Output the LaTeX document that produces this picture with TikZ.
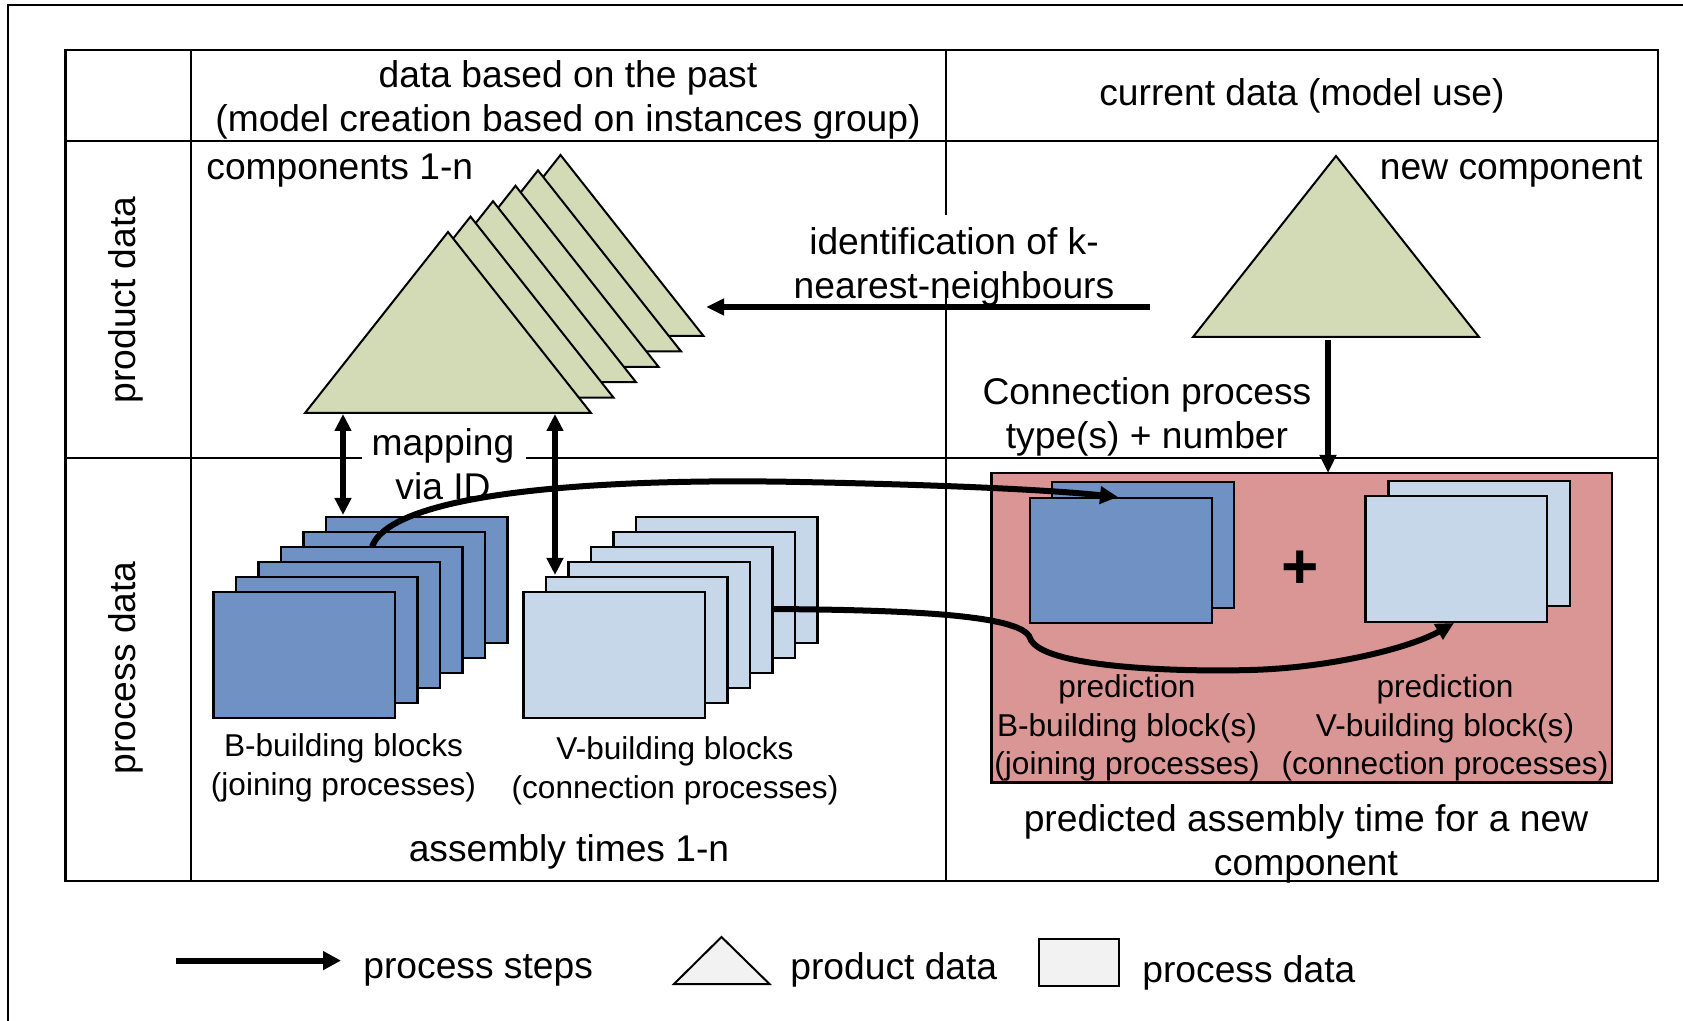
\documentclass[tikz,border=0pt]{standalone}
\usepackage{fontspec}
\setmainfont{Liberation Sans}
\usetikzlibrary{calc,arrows.meta}

\definecolor{triGreen}{RGB}{211,219,182}
\definecolor{bBlue}{RGB}{112,145,196}
\definecolor{vBlue}{RGB}{197,215,233}
\definecolor{predRed}{RGB}{217,150,148}
\definecolor{legGray}{RGB}{242,242,242}

\newcommand{\txtfont}{\fontsize{18.6pt}{22pt}\selectfont}
\newcommand{\lblfont}{\fontsize{15.8pt}{19.3pt}\selectfont}

\begin{document}
\begin{tikzpicture}[x=0.5pt,y=-0.5pt,
        grid/.style={line width=1.1pt},
        tri/.style={draw,line width=1pt,fill=triGreen},
        bblock/.style={draw,line width=1.1pt,fill=bBlue},
        vblock/.style={draw,line width=1.1pt,fill=vBlue},
        flow/.style={line width=2.8pt,-{Triangle[length=9pt,width=8pt]}},
        twoway/.style={line width=2.8pt,{Triangle[length=8.5pt,width=8pt]}-{Triangle[length=8.5pt,width=8pt]}},
        curve/.style={line width=3pt,-{Triangle[length=9pt,width=8.5pt]}},
        txt/.style={font=\txtfont,align=center,inner sep=0pt},
        lbl/.style={font=\lblfont,align=center,inner sep=0pt}]

        \useasboundingbox (0,0) rectangle (1683,1021);

        % outer frame
        \draw[grid] (8,1030) -- (8,5) -- (1690,5);

        % table
        \draw[grid] (65.5,50) rectangle (1658,881);
        \draw[grid] (65.5,141) -- (1658,141);
        \draw[grid] (191,50) -- (191,881);
        \draw[grid] (946,50) -- (946,215);
        \draw[grid] (946,295) -- (946,881);
        \draw[grid] (65.5,458) -- (362,458);
        \draw[grid] (526,458) -- (1658,458);

        % components 1-n
        \foreach \i in {5,4,...,0}{
            \coordinate (T\i) at ($(305,413)+\i*(22.5,-15.4)$);
            \draw[tri] (T\i) -- ++(143,-181) -- ++(143,181) -- cycle;
        }

        % new component
        \coordinate (Tnew) at (1193,337);
        \draw[tri] (Tnew) -- ++(143,-181) -- ++(143,181) -- cycle;

        % building blocks 1-n
        \foreach \i in {5,4,...,0}{
            \coordinate (B\i) at ($(213.5,591.7)+\i*(22.5,-15)$);
            \draw[bblock] (B\i) rectangle ++(181.5,126);
            \coordinate (V\i) at ($(523.5,591.7)+\i*(22.5,-15)$);
            \draw[vblock] (V\i) rectangle ++(181.5,126);
        }

        % prediction
        \draw[line width=1.1pt,fill=predRed] (991.5,473) rectangle (1612,782.5);
        \coordinate (PB1) at (1052.3,482.3);
        \coordinate (PB0) at (1029.8,498.3);
        \coordinate (PV1) at (1388.4,480.7);
        \coordinate (PV0) at (1365.4,495.7);
        \draw[bblock] (PB1) rectangle ++(182,126);
        \draw[bblock] (PB0) rectangle ++(182,125);
        \draw[vblock] (PV1) rectangle ++(181.5,125.5);
        \draw[vblock] (PV0) rectangle ++(181.8,126);
        \node[font=\fontsize{32pt}{32pt}\selectfont\bfseries,inner sep=0pt] (plus) at (1300.5,570) {+};

        % texts
        \node[txt] (hPast) at (568,100) {data based on the past\\(model creation based on instances group)};
        \node[txt] (hCur) at (1302,96) {current data (model use)};
        \node[txt,rotate=90] (rProd) at (126,300) {product data};
        \node[txt,rotate=90] (rProc) at (126,668) {process data};
        \node[txt,anchor=west] (comps) at (206,171) {components 1-n};
        \node[txt,anchor=east] (newc) at (1643,171) {new component};
        \node[txt] (knn) at (954,267) {identification of k-\\nearest-neighbours};
        \node[txt] (conn) at (1147,417) {Connection process\\type(s) + number};
        \node[txt] (mapLbl) at (443,464) {mapping\\via ID};
        \node[lbl] (bLbl) at (343.5,768) {B-building blocks\\(joining processes)};
        \node[lbl] (vLbl) at (675,771) {V-building blocks\\(connection processes)};
        \node[txt] (asmLbl) at (569,852) {assembly times 1-n};
        \node[lbl] (pbLbl) at (1127,728) {prediction\\B-building block(s)\\(joining processes)};
        \node[lbl] (pvLbl) at (1445,728) {prediction\\V-building block(s)\\(connection processes)};
        \node[txt] (predLbl) at (1306,844) {predicted assembly time for a new\\component};

        % arrows
        \coordinate (mapL1) at (343,414);
        \coordinate (mapL2) at (343,515);
        \coordinate (mapR1) at (555,414);
        \coordinate (mapR2) at (555,575);
        \draw[twoway] (mapL1) -- (mapL2);
        \draw[twoway] (mapR1) -- (mapR2);

        \coordinate (knnA) at (1150,307);
        \coordinate (knnB) at (706,307);
        \draw[flow] (knnA) -- (knnB);

        \coordinate (connA) at (1328,340);
        \coordinate (connB) at (1328,473);
        \draw[flow] (connA) -- (connB);

        \coordinate (c1s) at (372,546.7);
        \coordinate (c1e) at (1118,497);
        \draw[curve] (c1s) .. controls (392,492) and (600,478) .. (800,482)
            .. controls (950,485) and (1050,490) .. (c1e);

        \coordinate (c2s) at (773,609);
        \coordinate (c2e) at (1454,623);
        \draw[curve] (c2s) .. controls (900,610) and (1022,614) .. (1030,638)
            .. controls (1040,668) and (1180,672) .. (1250,670)
            .. controls (1330,668) and (1410,648) .. (c2e);

        % legend
        \coordinate (lgA) at (176,960.6);
        \coordinate (lgB) at (341,960.6);
        \draw[line width=3pt,-{Triangle[length=9pt,width=9pt]}] (lgA) -- (lgB);
        \node[txt,anchor=west] (lgSteps) at (363,970) {process steps};
        \draw[line width=1pt,fill=legGray] (674,984) -- (721.5,937) -- (769.5,984) -- cycle;
        \node[txt,anchor=west] (lgProd) at (790,970) {product data};
        \draw[line width=1pt,fill=legGray] (1039,939) rectangle (1119,986);
        \node[txt,anchor=west] (lgProc) at (1142,973) {process data};
    \end{tikzpicture}
\end{document}
